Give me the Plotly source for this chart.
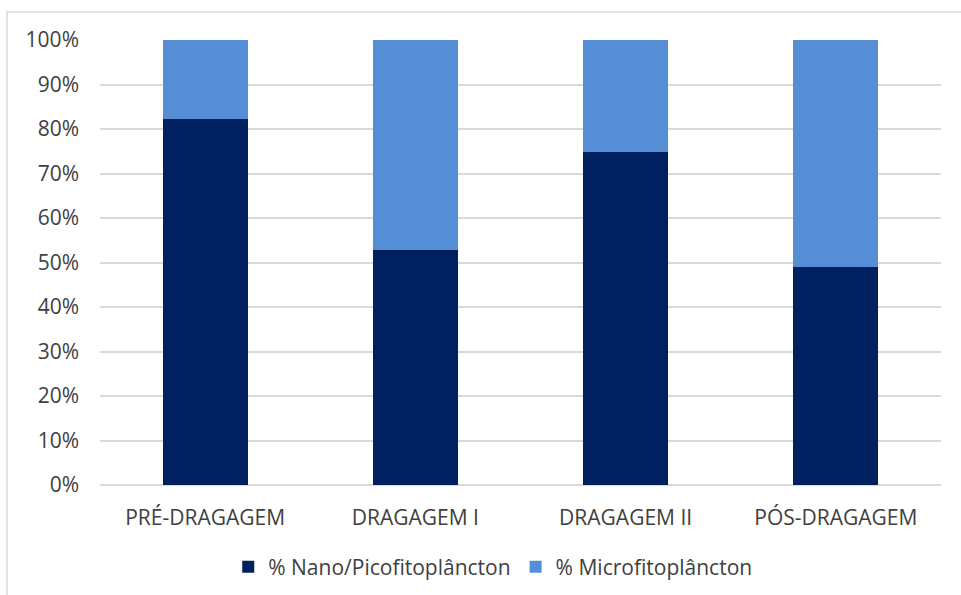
import plotly.graph_objects as go

# Phytoplankton size fractions per dredging phase (% of total)
phases = ["PRÉ-DRAGAGEM", "DRAGAGEM I", "DRAGAGEM II", "PÓS-DRAGAGEM"]
nano_pico = [82.3, 52.7, 74.8, 48.9]
micro = [100 - v for v in nano_pico]

series_names = ["% Nano/Picofitoplâncton", "% Microfitoplâncton"]
series_colors = ["#002060", "#558ED5"]

y_ticks = list(range(0, 101, 10))
y_tick_labels = [f"{t}%" for t in y_ticks]

FONT = "Open Sans, Segoe UI, sans-serif"
FS = 21

fig = go.Figure()
for name, vals, color in zip(series_names, [nano_pico, micro], series_colors):
    fig.add_trace(go.Bar(
        x=phases, y=vals, name=name,
        marker=dict(color=color, line=dict(width=0)),
    ))

fig.update_layout(
    barmode="stack",
    bargap=0.595,
    width=961, height=595,
    margin=dict(l=100, r=20, t=40, b=110, autoexpand=False),
    paper_bgcolor="white",
    plot_bgcolor="white",
    font=dict(family=FONT, size=FS, color="#404040"),
    showlegend=True,
    legend=dict(
        orientation="h",
        x=0.467, xanchor="center",
        yref="container",
        y=0.047, yanchor="middle",
        font=dict(family=FONT, size=FS, color="#404040"),
        traceorder="normal",
        itemclick=False,
    ),
    xaxis=dict(
        automargin=False,
        showgrid=False,
        showline=False,
        ticks="",
        ticklabelstandoff=18,
        tickfont=dict(family=FONT, size=FS, color="#404040"),
    ),
    yaxis=dict(
        automargin=False,
        range=[0, 100],
        tickvals=y_ticks,
        ticktext=y_tick_labels,
        showgrid=True,
        gridcolor="#D9D9D9",
        gridwidth=1.5,
        zeroline=True,
        zerolinecolor="#D9D9D9",
        zerolinewidth=1.5,
        showline=False,
        ticks="",
        ticklabelstandoff=20,
        tickfont=dict(family=FONT, size=FS, color="#404040"),
    ),
    shapes=[dict(
        type="rect", xref="paper", yref="paper",
        x0=-0.1106, x1=1.2, y0=-0.5, y1=1.0629,
        line=dict(color="#D9D9D9", width=1.5),
        fillcolor="rgba(0,0,0,0)", layer="below",
    )],
)

fig.write_html("out.html")
